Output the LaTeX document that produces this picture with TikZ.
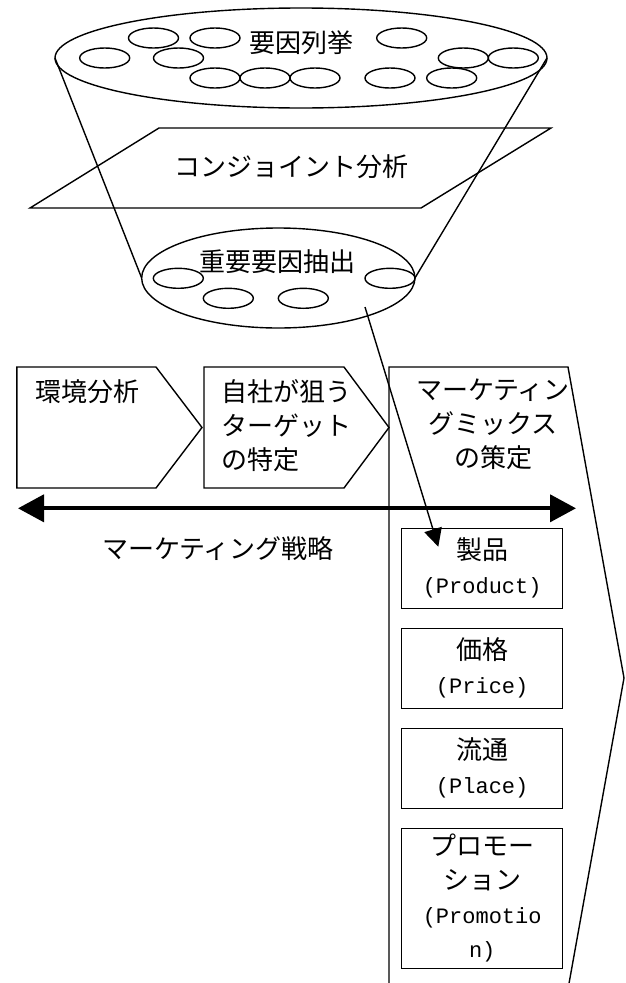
\documentclass[tikz,border=0pt]{standalone}
\usepackage{fontspec}
\newfontfamily\jp{Noto Sans CJK JP}
\newfontfamily\mymono{Liberation Mono}
\usetikzlibrary{shapes.geometric,arrows.meta}
\newcommand{\mylat}[1]{{\mymono\fontsize{22}{34}\selectfont #1}}
\begin{document}
\begin{tikzpicture}[x=1pt,y=-1pt,
  ol/.style={line width=1.4pt},
  ell/.style={ellipse,draw,ol,inner sep=0pt,outer sep=0pt},
  sml/.style={ell,minimum width=50pt,minimum height=20pt},
  jtxt/.style={font=\jp\fontsize{26}{34}\selectfont,inner sep=0pt},
  mbox/.style={draw,ol,minimum width=161pt,inner sep=0pt,outer sep=0pt,align=center,font=\jp\fontsize{26}{34}\selectfont}]
\clip (0,0) rectangle (626,983);
% funnel top
\node[ell,minimum width=492pt,minimum height=100pt] (top) at (301,58) {};
\foreach \n/\x/\y in {a/104.7/58,b/153.5/38,c/215/38,d/178.5/58,e/215/78,f/265/78,g/315/78,h/401.7/38,i/390/78,j/451.7/78,k/463.3/58,l/513.3/58}
  \node[sml] (t\n) at (\x,\y) {};
\node[jtxt] (tlab) at (301.7,42.5) {要因列挙};
% funnel bottom
\node[ell,minimum width=273.3pt,minimum height=100pt] (low) at (278.3,278) {};
\foreach \n/\x/\y in {a/178.3/278.3,b/228.3/298.3,c/303.3/298.3,d/390/278.3}
  \node[sml] (l\n) at (\x,\y) {};
\node[jtxt] (llab) at (277.5,261.7) {重要要因抽出};
\draw[ol] (top.west) -- (low.west);
\draw[ol] (top.east) -- (low.east);
% parallelogram
\draw[ol] (159,128) -- (551,128) -- (421,208) -- (30,208) -- cycle;
\node[jtxt] (conj) at (291.7,166.7) {コンジョイント分析};
% pentagons
\draw[ol] (16.8,367) -- (156,367) -- (202,427.5) -- (156,488) -- (16.8,488) -- cycle;
\draw[ol] (204,367) -- (344,367) -- (389,427.5) -- (344,488) -- (204,488) -- cycle;
\draw[ol] (389,367) -- (568,367) -- (624,678) -- (568,989) -- (389,989) -- cycle;
\node[jtxt,anchor=west] (env) at (35,391.7) {環境分析};
\node[jtxt,anchor=west,align=left] (tgt) at (221,425.5) {自社が狙う\\ターゲット\\の特定};
\node[jtxt,align=center] (mix) at (493,424.5) {マーケティン\\グミックス\\の策定};
% double arrow
\coordinate (dl) at (18,508.3);
\coordinate (dr) at (576,508.3);
\draw[line width=4pt,{Triangle[length=26pt,width=27pt]}-{Triangle[length=26pt,width=27pt]}] (dl) -- (dr);
\node[jtxt] (strat) at (218,549) {マーケティング戦略};
% 4P boxes
\node[mbox,minimum height=80pt] (prod) at (482.2,568.3) {製品\\\mylat{(Product)}};
\node[mbox,minimum height=80pt] (price) at (482.2,668.3) {価格\\\mylat{(Price)}};
\node[mbox,minimum height=80pt] (place) at (482.2,768.3) {流通\\\mylat{(Place)}};
\node[mbox,minimum height=140pt] (promo) at (482.2,898.3) {プロモー\\ション\\\mylat{(Promotio}\\\mylat{n)}};
% arrow from extracted factors to product
\coordinate (as) at (365,307);
\coordinate (ae) at (438.3,546.7);
\draw[ol,-{Triangle[length=18pt,width=18pt]}] (as) -- (ae);
\end{tikzpicture}
\end{document}
